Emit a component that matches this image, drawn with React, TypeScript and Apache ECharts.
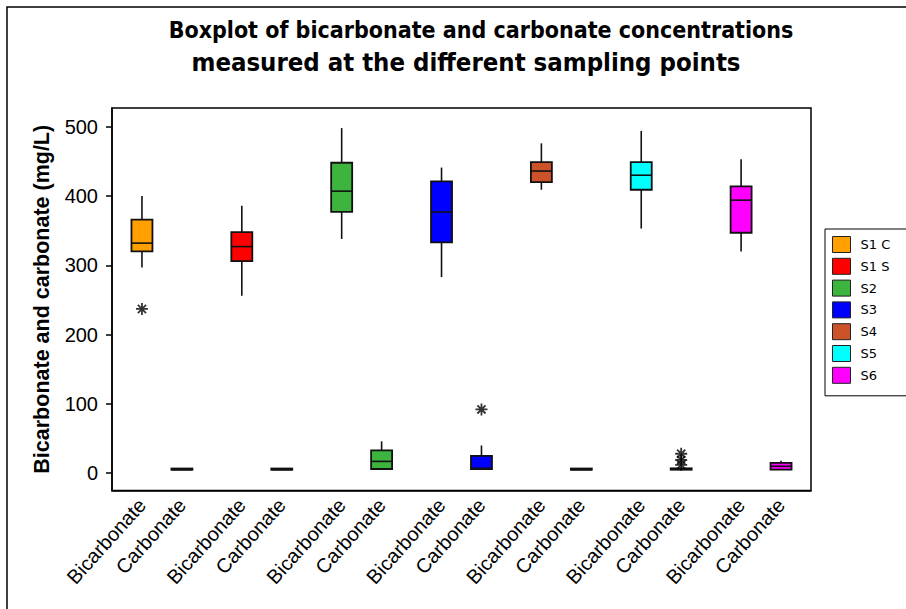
import React, { useEffect, useRef } from "react";
import * as echarts from "echarts";

// Sampling points (legend entries) and their fill colours
const groups = ["S1 C", "S1 S", "S2", "S3", "S4", "S5", "S6"];
const groupColors = ["#FFA000", "#FF0000", "#3DB43D", "#0000FF", "#CC5229", "#00FFFF", "#FF00FF"];
const measureTypes = ["Bicarbonate", "Carbonate"];

// Box statistics per sampling point: [min whisker, Q1, median, Q3, max whisker] (mg/L)
const bicarbonateStats = [
  [297, 320, 332, 366, 400],
  [256, 306, 327, 348, 386],
  [338, 377, 407, 448, 498],
  [283, 333, 377, 421, 441],
  [409, 420, 436, 449, 476],
  [353, 409, 430, 449, 494],
  [320, 347, 394, 414, 453],
];
const carbonateStats = [
  [5, 5, 5, 5, 5],
  [5, 5, 5, 5, 5],
  [5, 6, 17, 33, 46],
  [5, 6, 7, 25, 40],
  [5, 5, 5, 5, 5],
  [5, 5, 6, 7, 7],
  [5, 5, 10, 15, 18],
];

// Outliers: sampling point index, measure index (0 = Bicarbonate, 1 = Carbonate), value
const outlierGroup = [0, 3, 5, 5, 5];
const outlierMeasure = [0, 1, 1, 1, 1];
const outlierValue = [237, 92, 28, 19, 12];

const yTickValues = [0, 100, 200, 300, 400, 500];

// slot on the category axis: each sampling point uses 5 slots, boxes at slot 1 and 3
const slotOf = (g: number, m: number) => 1 + 5 * g + 2 * m;
const slotCount = groups.length * 5;
const slotLabels: string[] = Array.from({ length: slotCount }, () => "");
groups.forEach((_, g) => {
  measureTypes.forEach((name, m) => {
    slotLabels[slotOf(g, m)] = name;
  });
});

const asteriskPath =
  "path://M5,0L5,10M0,5L10,5M1.6,1.6L8.4,8.4M1.6,8.4L8.4,1.6";

const titleFont = "'DejaVu Sans Condensed', 'DejaVu Sans', sans-serif";
const axisFont = "'Liberation Sans', Arial, sans-serif";

export default function App() {
  const ref = useRef<HTMLDivElement>(null);

  useEffect(() => {
    document.body.style.margin = "0";
    if (!ref.current) return;
    const chart = echarts.init(ref.current, undefined, { renderer: "svg" });

    const boxSeries = groups.map((name, g) => ({
      name,
      type: "custom",
      itemStyle: { color: groupColors[g] },
      encode: { x: 0, y: [1, 2, 3, 4, 5] },
      data: [
        [slotOf(g, 0), ...bicarbonateStats[g]],
        [slotOf(g, 1), ...carbonateStats[g]],
      ],
      renderItem: (params: any, api: any) => {
        const x = api.value(0);
        const lo = api.coord([x, api.value(1)]);
        const q1 = api.coord([x, api.value(2)]);
        const med = api.coord([x, api.value(3)]);
        const q3 = api.coord([x, api.value(4)]);
        const hi = api.coord([x, api.value(5)]);
        const w = 21;
        const cx = lo[0];
        const h = Math.max(q1[1] - q3[1], 1.2);
        const line = { stroke: "#111", lineWidth: 1.6 };
        return {
          type: "group",
          children: [
            { type: "line", shape: { x1: cx, y1: hi[1], x2: cx, y2: q3[1] }, style: line },
            { type: "line", shape: { x1: cx, y1: q1[1], x2: cx, y2: lo[1] }, style: line },
            {
              type: "rect",
              shape: { x: cx - w / 2, y: q1[1] - h, width: w, height: h },
              style: { fill: groupColors[g], stroke: "#111", lineWidth: 1.8 },
            },
            {
              type: "line",
              shape: { x1: cx - w / 2, y1: med[1], x2: cx + w / 2, y2: med[1] },
              style: line,
            },
          ],
        };
      },
    }));

    const outlierSeries = {
      name: "Outliers",
      type: "scatter",
      symbol: asteriskPath,
      symbolSize: 12,
      itemStyle: { color: "transparent", borderColor: "#000", borderWidth: 1.8 },
      data: outlierValue.map((v, i) => [slotOf(outlierGroup[i], outlierMeasure[i]), v]),
      z: 5,
    };

    chart.setOption({
      animation: false,
      backgroundColor: "#fff",
      graphic: [
        {
          type: "rect",
          shape: { x: 7, y: 7, width: 1000, height: 700 },
          style: { fill: "none", stroke: "#000", lineWidth: 1.5 },
          silent: true,
        },
        {
          type: "text",
          x: 481,
          y: 30,
          style: {
            text: "Boxplot of bicarbonate and carbonate concentrations",
            fontFamily: titleFont,
            fontWeight: "bold",
            fontSize: 23,
            fill: "#000",
            align: "center",
            verticalAlign: "middle",
          },
        },
        {
          type: "text",
          x: 466,
          y: 62,
          style: {
            text: "measured at the different sampling points",
            fontFamily: titleFont,
            fontWeight: "bold",
            fontSize: 25.5,
            fill: "#000",
            align: "center",
            verticalAlign: "middle",
          },
        },
      ],
      legend: {
        data: groups,
        orient: "vertical",
        left: 825,
        top: 229,
        padding: [7, 40, 12, 7],
        itemWidth: 18,
        itemHeight: 16,
        itemGap: 4.8,
        icon: "rect",
        borderColor: "#000",
        borderWidth: 1,
        itemStyle: { borderColor: "#222", borderWidth: 1 },
        textStyle: {
          fontFamily: "'DejaVu Sans', sans-serif",
          fontSize: 13,
          color: "#000",
          padding: [0, 0, 0, 5],
        },
      },
      grid: {
        left: 112,
        right: 95,
        top: 108,
        bottom: 118.5,
        show: true,
        borderColor: "#000",
        borderWidth: 1.5,
        containLabel: false,
      },
      xAxis: {
        type: "category",
        data: slotLabels,
        boundaryGap: true,
        axisLine: { onZero: false, lineStyle: { color: "#000", width: 1.5 } },
        axisTick: {
          alignWithLabel: true,
          interval: (i: number, v: string) => v !== "",
          length: 6,
          lineStyle: { color: "#000", width: 1.5 },
        },
        axisLabel: {
          interval: (i: number, v: string) => v !== "",
          rotate: 48,
          margin: 11,
          fontFamily: axisFont,
          fontSize: 20,
          color: "#000",
        },
        splitLine: { show: false },
      },
      yAxis: {
        type: "value",
        min: -25,
        max: 527,
        name: "Bicarbonate and carbonate (mg/L)",
        nameLocation: "middle",
        nameGap: 59,
        nameTextStyle: {
          fontFamily: axisFont,
          fontWeight: "bold",
          fontSize: 21.5,
          color: "#000",
        },
        axisLine: { show: true, lineStyle: { color: "#000", width: 1.5 } },
        axisTick: {
          show: true,
          length: 6,
          customValues: yTickValues,
          lineStyle: { color: "#000", width: 1.5 },
        },
        axisLabel: {
          customValues: yTickValues,
          margin: 14,
          fontFamily: axisFont,
          fontSize: 20,
          color: "#000",
        },
        splitLine: { show: false },
      },
      series: [...boxSeries, outlierSeries],
    });

    return () => chart.dispose();
  }, []);

  return <div ref={ref} style={{ width: 906, height: 609 }} />;
}
